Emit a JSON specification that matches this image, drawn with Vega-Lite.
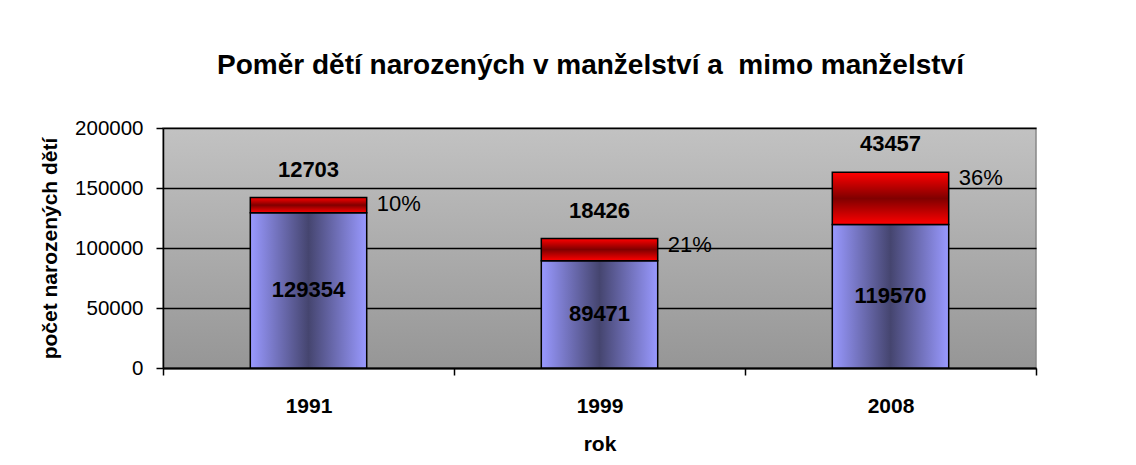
{
  "$schema": "https://vega.github.io/schema/vega-lite/v6.json",
  "width": 873,
  "height": 240,
  "autosize": {"type": "none"},
  "padding": {"left": 163, "top": 128, "right": 100, "bottom": 97},
  "background": "white",
  "title": {
    "text": "Poměr dětí narozených v manželství a \u00a0mimo manželství",
    "font": "Liberation Sans",
    "fontSize": 28,
    "fontWeight": "bold",
    "color": "black",
    "anchor": "middle",
    "baseline": "alphabetic",
    "offset": 16,
    "dx": -9
  },
  "data": {
    "values": [
      {"rok": "1991", "typ": "v manželství", "pocet": 129354, "poradi": 1, "podil": "10%"},
      {"rok": "1991", "typ": "mimo manželství", "pocet": 12703, "poradi": 2, "podil": "10%"},
      {"rok": "1999", "typ": "v manželství", "pocet": 89471, "poradi": 1, "podil": "21%"},
      {"rok": "1999", "typ": "mimo manželství", "pocet": 18426, "poradi": 2, "podil": "21%"},
      {"rok": "2008", "typ": "v manželství", "pocet": 119570, "poradi": 1, "podil": "36%"},
      {"rok": "2008", "typ": "mimo manželství", "pocet": 43457, "poradi": 2, "podil": "36%"}
    ]
  },
  "transform": [
    {"stack": "pocet", "groupby": ["rok"], "sort": [{"field": "poradi", "order": "ascending"}], "as": ["y0", "y1"]}
  ],
  "layer": [
    {
      "encoding": {
        "x": {
          "field": "rok",
          "type": "nominal",
          "scale": {"paddingInner": 0, "paddingOuter": 0},
          "axis": {
            "title": "rok",
            "labelAngle": 0,
            "tickBand": "extent",
            "tickSize": 7,
            "tickColor": "black",
            "tickWidth": 1.5,
            "domainColor": "black",
            "domainWidth": 2,
            "labelFont": "Liberation Sans",
            "labelFontSize": 21,
            "labelFontWeight": "bold",
            "labelColor": "black",
            "labelPadding": 20,
            "titleFont": "Liberation Sans",
            "titleFontSize": 21,
            "titleFontWeight": "bold",
            "titleColor": "black",
            "titlePadding": 17,
            "grid": false
          }
        }
      },
      "layer": [
        {
          "transform": [{"filter": "datum.poradi == 1"}],
          "mark": {
            "type": "bar",
            "width": {"band": 0.4},
            "stroke": "black",
            "strokeWidth": 1.5,
            "color": {
              "gradient": "linear",
              "x1": 0, "y1": 0, "x2": 1, "y2": 0,
              "stops": [
                {"offset": 0, "color": "#9999ff"},
                {"offset": 0.5, "color": "#45456f"},
                {"offset": 1, "color": "#9999ff"}
              ]
            }
          },
          "encoding": {
            "y": {
              "field": "y1",
              "type": "quantitative",
              "scale": {"domain": [0, 200000]},
              "axis": {
                "title": "počet narozených dětí",
                "values": [0, 50000, 100000, 150000, 200000],
                "format": "d",
                "grid": true,
                "gridColor": "black",
                "gridWidth": 1.3,
                "gridOpacity": 1,
                "tickSize": 7,
                "tickColor": "black",
                "tickWidth": 1.5,
                "domainColor": "black",
                "domainWidth": 1.5,
                "labelFont": "Liberation Sans",
                "labelFontSize": 20.5,
                "labelColor": "black",
                "labelPadding": 13,
                "titleFont": "Liberation Sans",
                "titleFontSize": 21,
                "titleFontWeight": "bold",
                "titleColor": "black",
                "titlePadding": 14
              }
            },
            "y2": {"field": "y0"}
          }
        },
        {
          "transform": [{"filter": "datum.poradi == 2"}],
          "mark": {
            "type": "bar",
            "width": {"band": 0.4},
            "stroke": "black",
            "strokeWidth": 1.5,
            "color": {
              "gradient": "linear",
              "x1": 0, "y1": 0, "x2": 0, "y2": 1,
              "stops": [
                {"offset": 0, "color": "#ff0000"},
                {"offset": 0.5, "color": "#800000"},
                {"offset": 1, "color": "#ff0000"}
              ]
            }
          },
          "encoding": {
            "y": {"field": "y1", "type": "quantitative"},
            "y2": {"field": "y0"}
          }
        },
        {
          "transform": [{"filter": "datum.poradi == 2"}],
          "mark": {
            "type": "text",
            "font": "Liberation Sans",
            "fontSize": 22,
            "fontWeight": "bold",
            "color": "black",
            "baseline": "middle",
            "dy": -28
          },
          "encoding": {
            "y": {"field": "y1", "type": "quantitative"},
            "text": {"field": "pocet", "type": "quantitative", "format": "d"}
          }
        },
        {
          "transform": [{"filter": "datum.poradi == 2"}],
          "mark": {
            "type": "text",
            "font": "Liberation Sans",
            "fontSize": 22,
            "color": "black",
            "align": "left",
            "baseline": "middle",
            "dx": 10,
            "dy": 6
          },
          "encoding": {
            "x": {"field": "rok", "type": "nominal", "bandPosition": 0.7},
            "y": {"field": "y1", "type": "quantitative"},
            "text": {"field": "podil", "type": "nominal"}
          }
        }
      ]
    },
    {
      "transform": [{"filter": "datum.poradi == 1"}],
      "mark": {
        "type": "text",
        "font": "Liberation Sans",
        "fontSize": 22,
        "fontWeight": "bold",
        "color": "black",
        "baseline": "middle"
      },
      "encoding": {
        "x": {"field": "rok", "type": "nominal"},
        "y": {"field": "y1", "type": "quantitative", "scale": {"domain": [0, 400000]}, "axis": null},
        "text": {"field": "pocet", "type": "quantitative", "format": "d"}
      }
    }
  ],
  "resolve": {"scale": {"y": "independent"}},
  "config": {
    "view": {
      "stroke": "#888888",
      "strokeWidth": 1.5,
      "fill": {
        "gradient": "linear",
        "x1": 0, "y1": 0, "x2": 0, "y2": 1,
        "stops": [
          {"offset": 0, "color": "#c2c2c2"},
          {"offset": 1, "color": "#969696"}
        ]
      }
    }
  }
}
